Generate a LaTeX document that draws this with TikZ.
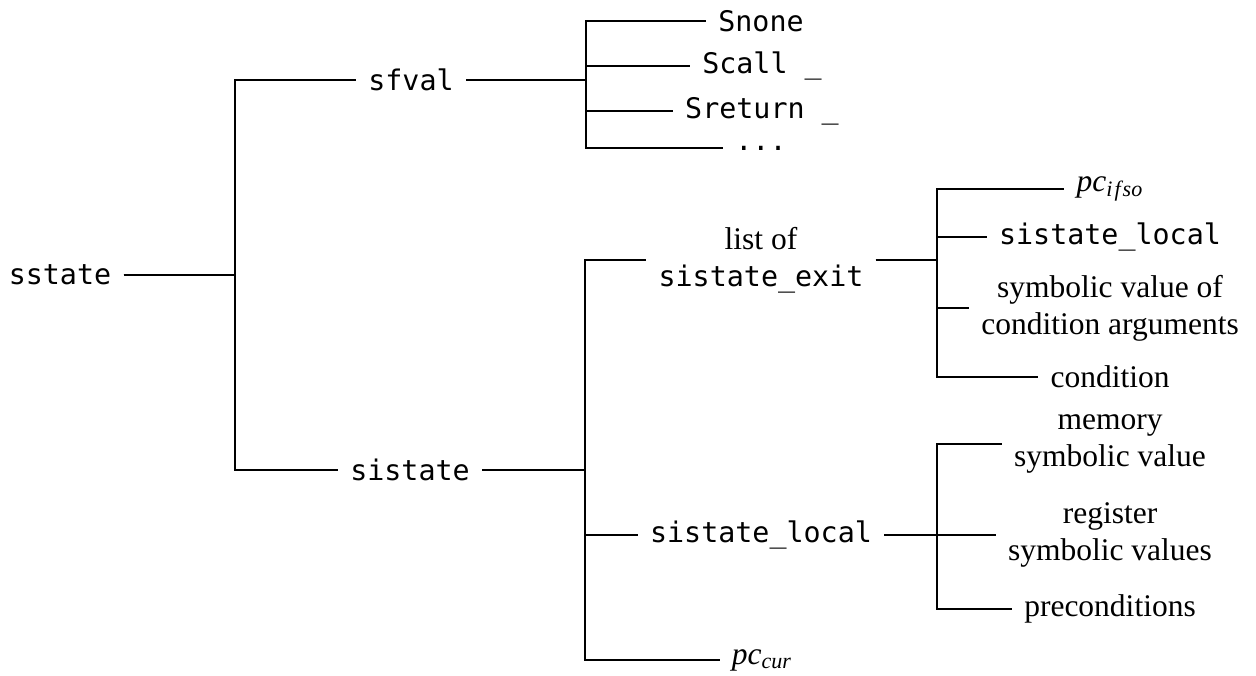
\documentclass[tikz,border=0pt]{standalone}
\usepackage{fontspec}
\setmainfont{Liberation Serif}
\setmonofont{DejaVu Sans Mono}[Scale=0.9]

\tikzset{
  lbl/.style={inner xsep=6pt, inner ysep=2pt, align=center,
    font=\fontsize{15.75}{18.5}\selectfont},
  code/.style={lbl, font=\fontsize{15.75}{18.5}\selectfont\ttfamily},
  branch/.style={line width=0.6pt}
}
\newcommand{\pcsub}[1]{\textit{pc}\textsubscript{\itshape #1}}

\begin{document}
\begin{tikzpicture}[x=0.5pt, y=-0.5pt]
    \useasboundingbox (0,0) rectangle (1256,675);

    % Root
    \node[code] (sstate) at (60,275) {sstate};

    % First level
    \node[code] (sfval) at (411,80) {sfval};
    \node[code] (sistate) at (410,470) {sistate};

    % Values of sfval
    \node[code] (snone) at (761,21) {Snone};
    \node[code] (scall) at (762,66) {Scall \_};
    \node[code] (sreturn) at (762,111) {Sreturn \_};
    \node[code] (sdots) at (761,148) {...};

    % Parts of sistate
    \node[lbl] (exits) at (761,260) {list of\\\texttt{sistate\_exit}};
    \node[code] (local) at (761,535) {sistate\_local};
    \node[lbl] (pccur) at (762,660) {\pcsub{cur}};

    % Parts of an exit
    \node[lbl] (pcifso) at (1110,189) {\pcsub{i\kern1pt f\kern1pt so}};
    \node[code] (exitlocal) at (1110,237) {sistate\_local};
    \node[lbl] (condargs) at (1110,308) {symbolic value of\\condition arguments};
    \node[lbl] (cond) at (1110,377) {condition};

    % Parts of sistate_local
    \node[lbl] (memory) at (1110,444) {memory\\symbolic value};
    \node[lbl] (regs) at (1110,535) {register\\symbolic values};
    \node[lbl] (precond) at (1110,609) {preconditions};

    % Bars of the forks
    \coordinate (b0) at (235,0);
    \coordinate (b1) at (586,0);
    \coordinate (b2) at (585,0);
    \coordinate (b3) at (937,0);

    % Forks
    \foreach \c in {sfval,sistate}
        \draw[branch] (sstate) -- (sstate -| b0) |- (\c);
    \foreach \c in {snone,scall,sreturn,sdots}
        \draw[branch] (sfval) -- (sfval -| b1) |- (\c);
    \foreach \c in {exits,local,pccur}
        \draw[branch] (sistate) -- (sistate -| b2) |- (\c);
    \foreach \c in {pcifso,exitlocal,condargs,cond}
        \draw[branch] (exits) -- (exits -| b3) |- (\c);
    \foreach \c in {memory,regs,precond}
        \draw[branch] (local) -- (local -| b3) |- (\c);
\end{tikzpicture}
\end{document}
